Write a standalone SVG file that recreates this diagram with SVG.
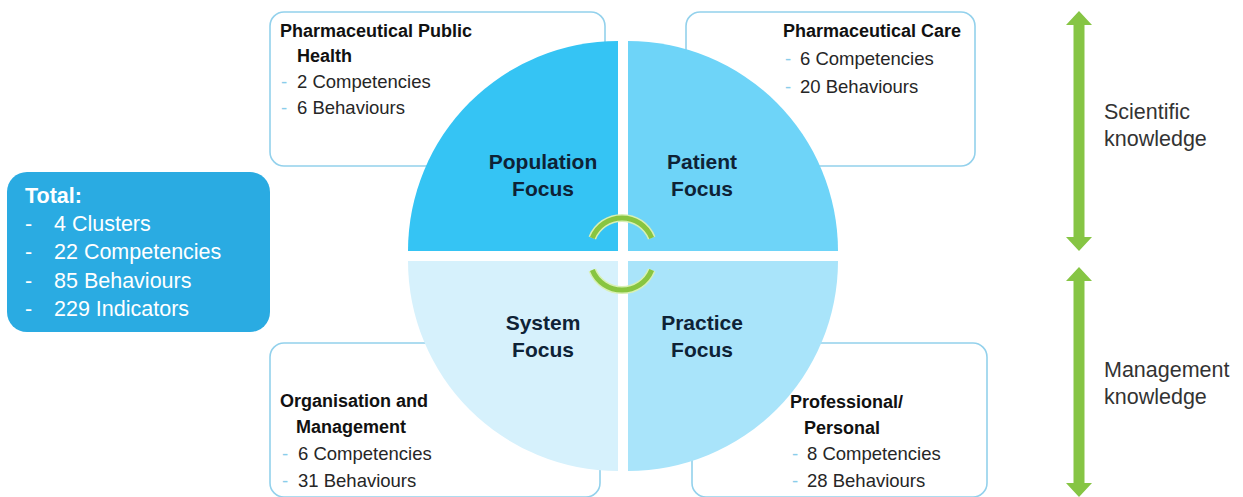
<svg xmlns="http://www.w3.org/2000/svg" width="1243" height="497" viewBox="0 0 1243 497">
<style>
.box{fill:#fff;stroke:#93D1EC;stroke-width:1.6}
.t{font-family:"Liberation Sans",Arial,sans-serif;font-size:18.5px;fill:#262626}
.h{font-weight:bold;font-size:18px;fill:#111}
.d{fill:#8ACDEB}
.c{font-family:"Liberation Sans",Arial,sans-serif;font-size:21px;font-weight:bold;fill:#0E2236;text-anchor:middle}
.w{font-family:"Liberation Sans",Arial,sans-serif;font-size:21.5px;fill:#fff}
.r{font-family:"Liberation Sans",Arial,sans-serif;font-size:21.5px;fill:#333}
.g{fill:#86C544}
.arc{fill:none;stroke:#88C540;stroke-width:5;stroke-linecap:butt}
.halo{fill:none;stroke:#D8F0B4;stroke-width:8}
</style>
<rect width="1243" height="497" fill="#fff"/>
<g id="box-public-health">
<rect class="box" x="270" y="12" width="335" height="154" rx="14"/>
<text class="t h" x="280" y="37">Pharmaceutical Public</text>
<text class="t h" x="297" y="62">Health</text>
<text class="t d" x="281" y="88">-</text><text class="t" x="297" y="88">2 Competencies</text>
<text class="t d" x="281" y="114">-</text><text class="t" x="297" y="114">6 Behaviours</text>
</g>
<g id="box-pharm-care">
<rect class="box" x="686" y="12" width="289" height="154" rx="14"/>
<text class="t h" x="783" y="37">Pharmaceutical Care</text>
<text class="t d" x="785" y="65">-</text><text class="t" x="800" y="65">6 Competencies</text>
<text class="t d" x="785" y="93">-</text><text class="t" x="800" y="93">20 Behaviours</text>
</g>
<g id="box-organisation">
<rect class="box" x="270" y="343" width="330" height="154" rx="14"/>
<text class="t h" x="280" y="407">Organisation and</text>
<text class="t h" x="296" y="433">Management</text>
<text class="t d" x="282" y="460">-</text><text class="t" x="298" y="460">6 Competencies</text>
<text class="t d" x="282" y="487">-</text><text class="t" x="298" y="487">31 Behaviours</text>
</g>
<g id="box-professional">
<rect class="box" x="692" y="343" width="295" height="154" rx="14"/>
<text class="t h" x="790" y="408">Professional/</text>
<text class="t h" x="804" y="434">Personal</text>
<text class="t d" x="792" y="460">-</text><text class="t" x="807" y="460">8 Competencies</text>
<text class="t d" x="792" y="487">-</text><text class="t" x="807" y="487">28 Behaviours</text>
</g>
<g id="total">
<rect x="7" y="172" width="263" height="160" rx="20" fill="#2AABE2"/>
<text class="w" x="25" y="203" font-weight="bold">Total:</text>
<text class="w" x="25" y="231">-</text><text class="w" x="54" y="231">4 Clusters</text>
<text class="w" x="25" y="259">-</text><text class="w" x="54" y="259">22 Competencies</text>
<text class="w" x="25" y="288">-</text><text class="w" x="54" y="288">85 Behaviours</text>
<text class="w" x="25" y="316">-</text><text class="w" x="54" y="316">229 Indicators</text>
</g>
<g id="q-population">
<path d="M618,251 L408,251 A210,210 0 0 1 618,41 Z" fill="#35C4F4"/>
<text class="c" x="543" y="169">Population</text>
<text class="c" x="543" y="196">Focus</text>
</g>
<g id="q-patient">
<path d="M628,251 L628,41 A210,210 0 0 1 838,251 Z" fill="#6ED4F8"/>
<text class="c" x="702" y="169">Patient</text>
<text class="c" x="702" y="196">Focus</text>
</g>
<g id="q-system">
<path d="M618,261 L618,471 A210,210 0 0 1 408,261 Z" fill="#D6F1FC"/>
<text class="c" x="543" y="330">System</text>
<text class="c" x="543" y="357">Focus</text>
</g>
<g id="q-practice">
<path d="M628,261 L838,261 A210,210 0 0 1 628,471 Z" fill="#A9E4FA"/>
<text class="c" x="702" y="330">Practice</text>
<text class="c" x="702" y="357">Focus</text>
</g>
<g id="connectors">
<path class="halo" d="M592.3,238 A32,32 0 0 1 651.7,238"/>
<path class="arc" d="M592.3,238 A32,32 0 0 1 651.7,238"/>
<path class="halo" d="M592.3,270 A32,32 0 0 0 651.7,270"/>
<path class="arc" d="M592.3,270 A32,32 0 0 0 651.7,270"/>
<polygon class="g" points="1079,11 1092,25 1084.5,25 1084.5,237 1092,237 1079,251 1066,237 1073.5,237 1073.5,25 1066,25"/>
<polygon class="g" points="1079,267 1092,281 1084.5,281 1084.5,483 1092,483 1079,497 1066,483 1073.5,483 1073.5,281 1066,281"/>
</g>
<g id="labels">
<text class="r" x="1104" y="119">Scientific</text>
<text class="r" x="1104" y="146">knowledge</text>
<text class="r" x="1104" y="377">Management</text>
<text class="r" x="1104" y="404">knowledge</text>
</g>
</svg>
